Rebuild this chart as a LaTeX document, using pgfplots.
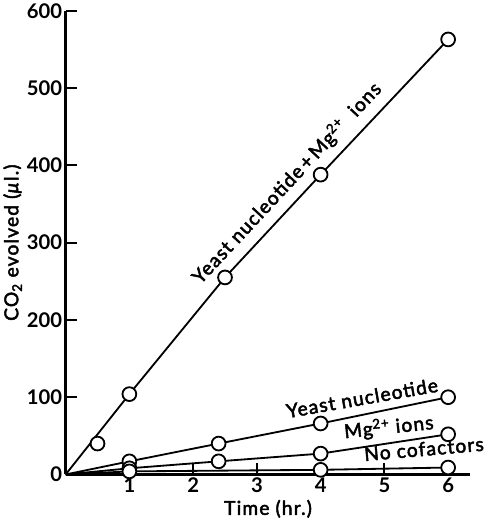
\documentclass[border=0pt]{standalone}
\usepackage{fontspec}
\setmainfont{Lato}
\newfontfamily\lbl{Lato}[LetterSpace=6, FakeBold=2.5]
\usepackage{pgfplots}
\pgfplotsset{compat=1.18}
\tikzset{lab/.style={font=\fontsize{19}{19}\selectfont\lbl}}

% CO2 evolved (ul) against time (hr)
\pgfplotstableread{
x y
0 0
1 104
2.5 255
4 388
6 563
}\both
\pgfplotstableread{
x y
0 0
1 17
2.4 40
4 66
6 100
}\nucl
\pgfplotstableread{
x y
0 0
1 8
2.4 17
4 27
6 52
}\mg
\pgfplotstableread{
x y
0 0
1 4
4 6
6 9
}\none

\begin{document}
\begin{tikzpicture}
\begin{axis}[
  scale only axis, width=399bp, height=457bp,
  xmin=0, xmax=6.35, ymin=0, ymax=600,
  axis x line=bottom, axis y line=left,
  axis line style={-, line width=2.6bp},
  tick align=inside, major tick length=11bp,
  tick style={line width=2bp, black},
  xtick={1,2,3,4,5,6}, ytick={0,100,...,600},
  /pgf/number format/assume math mode=true,
  tick label style={font=\fontsize{20}{20}\selectfont\bfseries},
  label style={font=\fontsize{19}{19}\selectfont\lbl},
  xlabel={Time (hr.)},
  ylabel={CO\textsubscript{2} evolved (\textit{µ}l.)},
  ylabel style={yshift=-2bp},
  every axis plot/.append style={line width=1.8bp, black},
  circ/.style={mark=*, mark size=6.8bp, mark options={fill=white, draw=black, line width=1.8bp}},
  clip=false,
]
\addplot[circ, only marks] coordinates {(0.5,40)};
\addplot[circ, mark indices={2,3,4,5}] table {\both};
\addplot[circ, mark indices={2,3,4,5}] table {\nucl};
\addplot[circ, mark indices={2,3,4,5}] table {\mg};
\addplot[circ, mark indices={2,3,4}] table {\none};
\node[lab, rotate=47] at (axis cs:3.47,377) {Yeast nucleotide\,+\,Mg\textsuperscript{2+}\ \ ions};
\node[lab, rotate=10] at (axis cs:4.65,99) {Yeast nucleotide};
\node[lab, rotate=6] at (axis cs:5.07,61) {Mg\textsuperscript{2+} ions};
\node[lab, rotate=5] at (axis cs:5.62,33) {No cofactors};
\end{axis}
\end{tikzpicture}
\end{document}
